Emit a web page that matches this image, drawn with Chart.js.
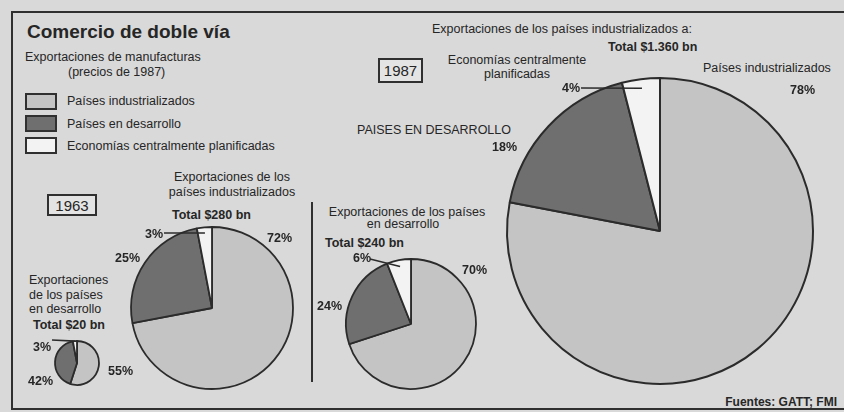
<!DOCTYPE html>
<html><head><meta charset="utf-8">
<script src="https://cdn.jsdelivr.net/npm/chart.js@4.4.0/dist/chart.umd.min.js"></script>
<style>
html,body{margin:0;padding:0;background:#d9d9d9;width:844px;height:412px;overflow:hidden;font-family:"Liberation Sans",Arial,sans-serif;color:#262626}
#wrap{position:relative;width:844px;height:412px;overflow:hidden}
canvas{position:absolute;left:0;top:0}
.t{position:absolute;white-space:nowrap;line-height:1;font-size:12.5px;transform:translateY(-50%)}
.c{transform:translate(-50%,-50%)}
.b{font-weight:bold}
.frame{position:absolute;left:11px;top:11px;width:900px;height:399px;border:2.5px solid #303030;box-sizing:border-box}
.box{position:absolute;border:2px solid #303030;box-sizing:border-box}
.yr{position:absolute;border:2px solid #303030;box-sizing:border-box;font-size:15px;display:flex;align-items:center;justify-content:center;background:#e4e4e4}
.vline{position:absolute;background:#303030}
</style></head><body><div id="wrap"><div class="frame"></div></div>
<script>
// ---- data ----
const categories = ["Países industrializados", "Países en desarrollo", "Economías centralmente planificadas"];
const exp1963Desarrollo = [55, 42, 3];   // Total $20 bn
const exp1963Industrial = [72, 25, 3];   // Total $280 bn
const exp1987Desarrollo = [70, 24, 6];   // Total $240 bn
const exp1987Industrial = [78, 18, 4];   // Total $1.360 bn
const totals = ["Total $20 bn", "Total $280 bn", "Total $240 bn", "Total $1.360 bn"];
const years = ["1963", "1987"];

const colors = ["#c4c4c4", "#6f6f6f", "#f3f3f3"];
const wrap = document.getElementById('wrap');

function txt(s, x, y, cls, extra) {
  const d = document.createElement('div');
  d.className = 't ' + (cls || '');
  d.style.left = x + 'px'; d.style.top = y + 'px';
  if (extra) Object.assign(d.style, extra);
  d.textContent = s;
  wrap.appendChild(d);
  return d;
}
function el(cls, l, t, w, h, bg) {
  const d = document.createElement('div');
  d.className = cls;
  Object.assign(d.style, {left: l + 'px', top: t + 'px', width: w + 'px', height: h + 'px'});
  if (bg) d.style.background = bg;
  wrap.appendChild(d);
  return d;
}

function leaderPlugin(p) {
  return {
    id: 'leader',
    afterDatasetsDraw(chart) {
      const arc = chart.getDatasetMeta(0).data[2];
      const mid = (arc.startAngle + arc.endAngle) / 2;
      const ex = arc.x + Math.cos(mid) * arc.outerRadius * p.leader.rf;
      const ey = arc.y + Math.sin(mid) * arc.outerRadius * p.leader.rf;
      const ctx = chart.ctx;
      ctx.save();
      ctx.strokeStyle = '#2b2b2b';
      ctx.lineWidth = 1.6;
      ctx.beginPath();
      ctx.moveTo(p.leader.x, p.leader.y);
      ctx.lineTo(ex, ey);
      ctx.stroke();
      ctx.restore();
    }
  };
}

function makePie(p) {
  const c = document.createElement('canvas');
  c.width = 844; c.height = 412;
  c.style.width = '844px'; c.style.height = '412px';
  wrap.appendChild(c);
  const h = p.r + 4;
  new Chart(c, {
    type: 'pie',
    data: {labels: categories, datasets: [{data: p.data, backgroundColor: colors, borderColor: '#2b2b2b', borderWidth: p.bw}]},
    options: {
      responsive: false, animation: false, events: [], devicePixelRatio: 1,
      radius: p.r,
      layout: {padding: {left: p.cx - h, right: 844 - p.cx - h, top: p.cy - h, bottom: 412 - p.cy - h}},
      plugins: {legend: {display: false}, tooltip: {enabled: false}}
    },
    plugins: [leaderPlugin(p)]
  });
  p.data.forEach((v, i) => txt(v + '%', p.labels[i][0], p.labels[i][1], 'b'));
}

const pies = [
  {data: exp1963Desarrollo, cx: 77, cy: 363, r: 22, bw: 1.8,
   labels: [[108, 371], [28, 381], [33, 347]], leader: {x: 52, y: 340, rf: 1.0}},
  {data: exp1963Industrial, cx: 212, cy: 308, r: 81, bw: 1.8,
   labels: [[267, 238], [115, 258], [145, 234]], leader: {x: 164, y: 233, rf: 0.93}},
  {data: exp1987Desarrollo, cx: 411, cy: 324, r: 65, bw: 1.8,
   labels: [[462, 270], [317, 306], [353, 258]], leader: {x: 370, y: 259, rf: 0.9}},
  {data: exp1987Industrial, cx: 660, cy: 231, r: 153, bw: 2,
   labels: [[790, 90], [492, 147], [562, 88]], leader: {x: 581, y: 88, rf: 0.94}}
];

// ---- static texts ----
txt('Comercio de doble vía', 27, 31, 'b', {fontSize: '19px'});
txt('Exportaciones de manufacturas', 25, 57);
txt('(precios de 1987)', 68, 72);
categories.forEach((c, i) => {
  el('box', 25, [93, 115, 137][i], 32, 17, colors[i]);
  txt(c, 67, [101, 124, 146][i]);
});
el('yr', 378, 58, 45, 25).textContent = years[1];
el('yr', 47, 194, 50, 22).textContent = years[0];

txt('Exportaciones de los', 232, 177, 'c');
txt('países industrializados', 232, 192, 'c');
txt(totals[1], 172, 215, 'b');

txt('Exportaciones', 29, 280);
txt('de los países', 29, 295);
txt('en desarrollo', 29, 309);
txt(totals[0], 33, 325, 'b');

el('vline', 311, 202, 2, 180);
txt('Exportaciones de los países', 407, 212, 'c');
txt('en desarrollo', 403, 224, 'c');
txt(totals[2], 325, 243, 'b');

txt('Exportaciones de los países industrializados a:', 432, 29);
txt(totals[3], 608, 47, 'b');
txt('Economías centralmente', 517, 60, 'c');
txt('planificadas', 517, 74, 'c');
txt('Países industrializados', 703, 68);
txt('PAISES EN DESARROLLO', 357, 130);
txt('Fuentes: GATT; FMI', 837, 402, 'b', {transform: 'translate(-100%,-50%)', fontSize: '12px'});

pies.forEach(makePie);
</script></body></html>
